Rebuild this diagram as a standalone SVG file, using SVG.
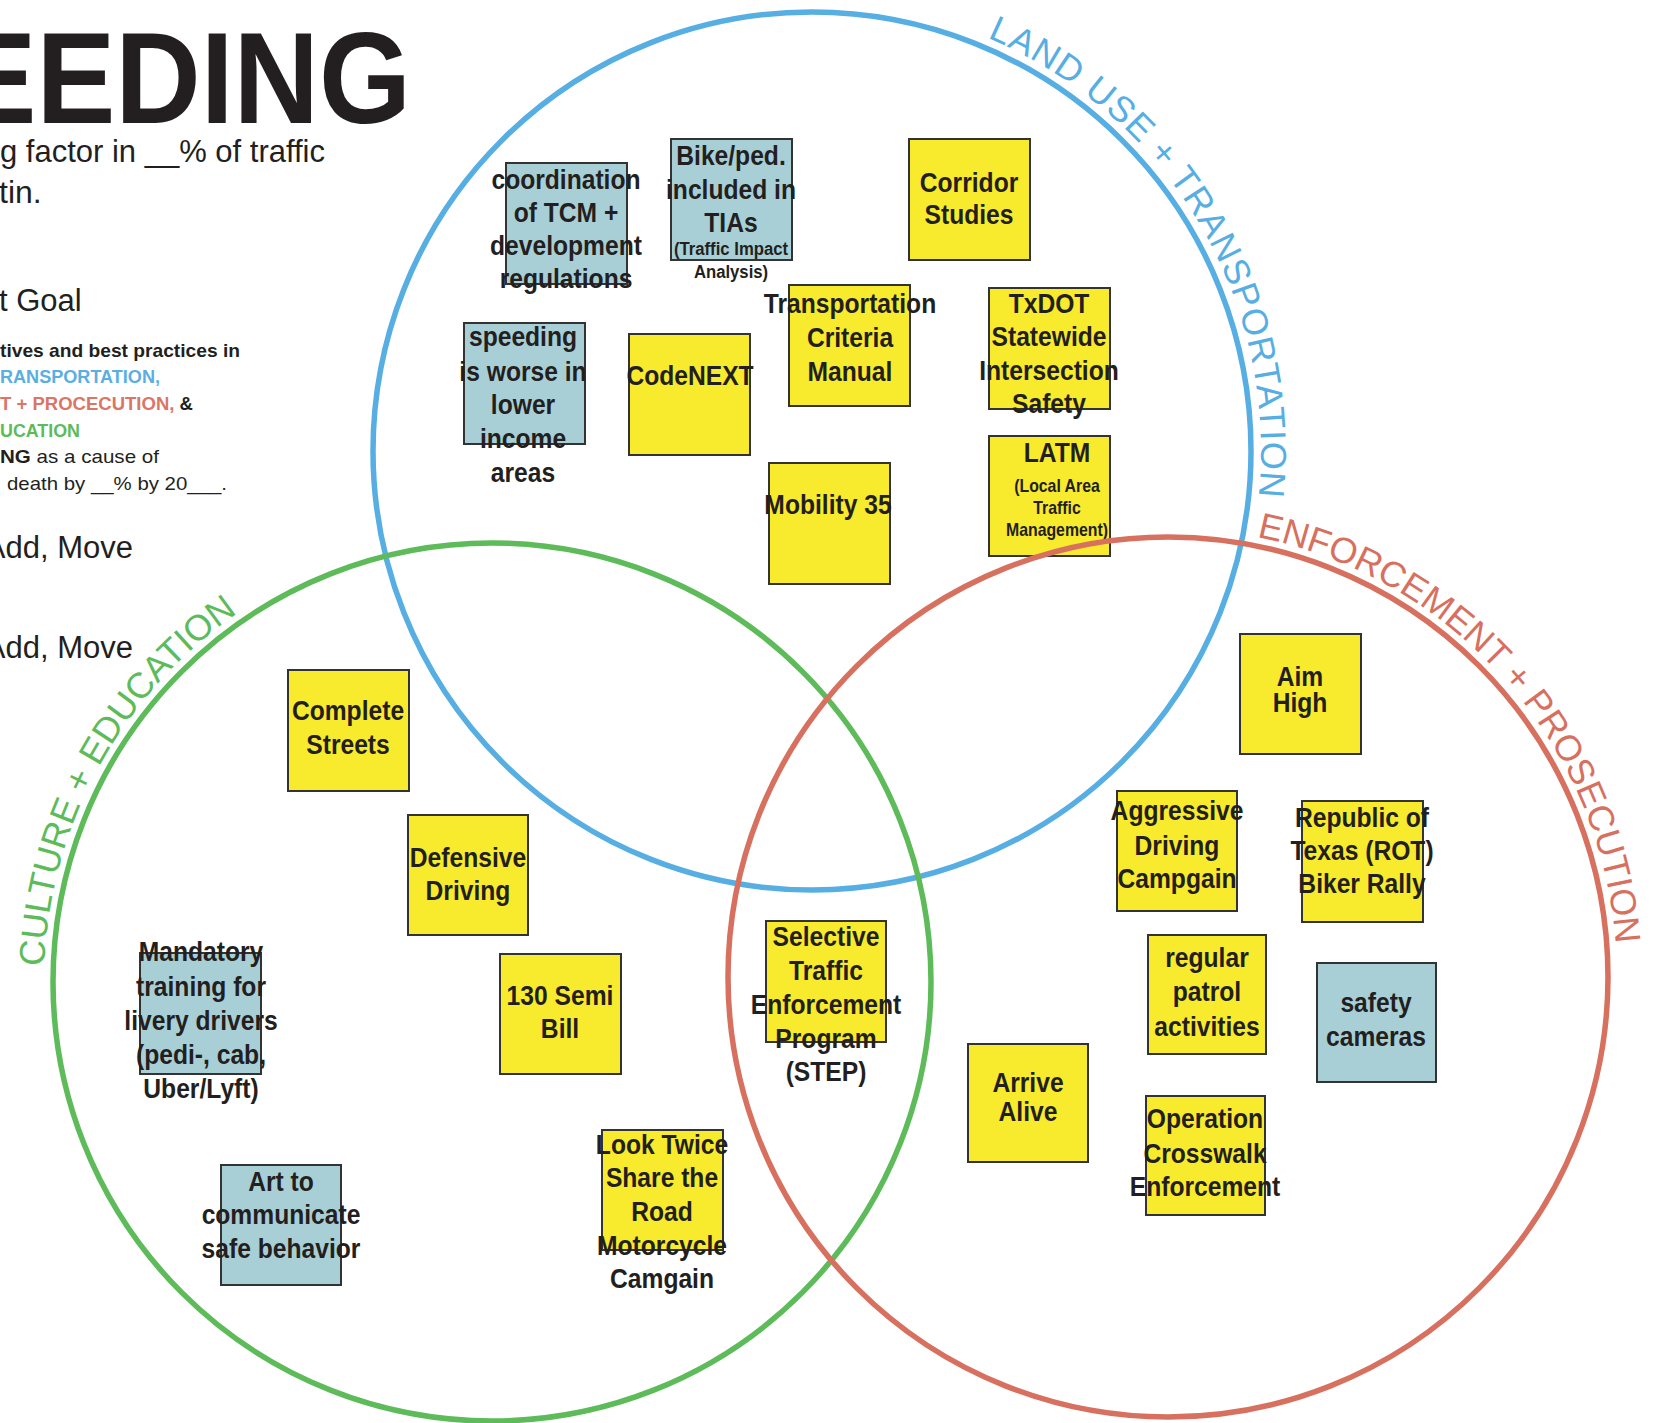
<svg xmlns="http://www.w3.org/2000/svg" width="1659" height="1423" viewBox="0 0 1659 1423">
<style>
.y{fill:#F8EA2C;stroke:#333;stroke-width:2}
.b{fill:#A8CFD6;stroke:#333;stroke-width:2}
.n{font-family:"Liberation Sans",Arial,sans-serif;font-weight:bold;font-size:28px;fill:#231F20;text-anchor:middle}
.s{font-size:18px}
.hd{font-family:"Liberation Sans",Arial,sans-serif;fill:#231F20}
.lbl{font-family:"Liberation Sans",Arial,sans-serif;font-size:36px}
.c{fill:none;stroke-width:5.5}
</style>
<defs>
<path id="pBlue" d="M987.4 37.7 A449 449 0 0 1 1254.2 528.9"/>
<path id="pRed" d="M1256.8 536.9 A449 449 0 0 1 1615.3 1016.1"/>
<path id="pGreen" d="M44.3 966.4 A448 448 0 0 1 302.7 576"/>
</defs>
<rect width="1659" height="1423" fill="#fff"/>

<g id="header">
<text class="hd" font-weight="bold" font-size="130" text-anchor="end" transform="translate(411 123) scale(0.91 1)">EEDING</text>
<text class="hd" x="0" y="162" font-size="32" textLength="325" lengthAdjust="spacingAndGlyphs">g factor in __% of traffic</text>
<text class="hd" x="-1" y="203" font-size="32">tin.</text>
<text class="hd" x="-1" y="311" font-size="31">t Goal</text>
<g font-family="Liberation Sans,Arial,sans-serif" font-weight="bold" font-size="19">
<text x="0" y="357" fill="#231F20" textLength="240" lengthAdjust="spacingAndGlyphs">tives and best practices in</text>
<text x="0" y="383" fill="#5AAFE0" textLength="160" lengthAdjust="spacingAndGlyphs">RANSPORTATION,</text>
<text x="0" y="410" fill="#DB7565" textLength="193" lengthAdjust="spacingAndGlyphs">T + PROCECUTION, <tspan fill="#231F20">&amp;</tspan></text>
<text x="0" y="437" fill="#5DBB5A" textLength="80" lengthAdjust="spacingAndGlyphs">UCATION</text>
<text x="0" y="463" fill="#231F20" textLength="159" lengthAdjust="spacingAndGlyphs">NG<tspan font-weight="normal"> as a cause of</tspan></text>
<text x="7" y="490" fill="#231F20" font-weight="normal" textLength="220" lengthAdjust="spacingAndGlyphs">death by __% by 20___.</text>
</g>
<text class="hd" x="133" y="558" font-size="31" text-anchor="end">Add, Move</text>
<text class="hd" x="133" y="658" font-size="31" text-anchor="end">Add, Move</text>
</g>

<g id="nodes">
<g id="coordination"><rect class="b" x="506" y="163" width="121" height="121"/>
<text class="n" transform="translate(566 0) scale(0.88 1)"><tspan x="0" y="189">coordination</tspan><tspan x="0" y="222">of TCM +</tspan><tspan x="0" y="255">development</tspan><tspan x="0" y="288">regulations</tspan></text></g>

<g id="bike-ped"><rect class="b" x="671" y="139" width="121" height="121"/>
<text class="n" transform="translate(731 0) scale(0.88 1)"><tspan x="0" y="165">Bike/ped.</tspan><tspan x="0" y="199">included in</tspan><tspan x="0" y="232">TIAs</tspan><tspan x="0" y="255" font-size="19">(Traffic Impact</tspan><tspan x="0" y="278" font-size="19">Analysis)</tspan></text></g>

<g id="corridor"><rect class="y" x="909" y="139" width="121" height="121"/>
<text class="n" transform="translate(969 0) scale(0.88 1)"><tspan x="0" y="192">Corridor</tspan><tspan x="0" y="224">Studies</tspan></text></g>

<g id="speeding"><rect class="b" x="464" y="323" width="121" height="121"/>
<text class="n" transform="translate(523 0) scale(0.88 1)"><tspan x="0" y="346">speeding</tspan><tspan x="0" y="381">is worse in</tspan><tspan x="0" y="414">lower</tspan><tspan x="0" y="448">income</tspan><tspan x="0" y="482">areas</tspan></text></g>

<g id="codenext"><rect class="y" x="629" y="334" width="121" height="121"/>
<text class="n" transform="translate(690 0) scale(0.88 1)"><tspan x="0" y="385">CodeNEXT</tspan></text></g>

<g id="tcm"><rect class="y" x="789" y="285" width="121" height="121"/>
<text class="n" transform="translate(850 0) scale(0.88 1)"><tspan x="0" y="313">Transportation</tspan><tspan x="0" y="347">Criteria</tspan><tspan x="0" y="381">Manual</tspan></text></g>

<g id="txdot"><rect class="y" x="989" y="288" width="121" height="121"/>
<text class="n" transform="translate(1049 0) scale(0.88 1)"><tspan x="0" y="313">TxDOT</tspan><tspan x="0" y="346">Statewide</tspan><tspan x="0" y="380">Intersection</tspan><tspan x="0" y="413">Safety</tspan></text></g>

<g id="latm"><rect class="y" x="989" y="436" width="121" height="120"/>
<text class="n" transform="translate(1057 0) scale(0.88 1)"><tspan x="0" y="462">LATM</tspan><tspan x="0" y="492" class="s">(Local Area</tspan><tspan x="0" y="514" class="s">Traffic</tspan><tspan x="0" y="536" class="s">Management)</tspan></text></g>

<g id="mobility35"><rect class="y" x="769" y="463" width="121" height="121"/>
<text class="n" transform="translate(828 0) scale(0.88 1)"><tspan x="0" y="514">Mobility 35</tspan></text></g>

<g id="complete-streets"><rect class="y" x="288" y="670" width="121" height="121"/>
<text class="n" transform="translate(348 0) scale(0.88 1)"><tspan x="0" y="720">Complete</tspan><tspan x="0" y="754">Streets</tspan></text></g>

<g id="defensive-driving"><rect class="y" x="408" y="815" width="120" height="120"/>
<text class="n" transform="translate(468 0) scale(0.88 1)"><tspan x="0" y="867">Defensive</tspan><tspan x="0" y="900">Driving</tspan></text></g>

<g id="semi-bill"><rect class="y" x="500" y="954" width="121" height="120"/>
<text class="n" transform="translate(560 0) scale(0.88 1)"><tspan x="0" y="1005">130 Semi</tspan><tspan x="0" y="1038">Bill</tspan></text></g>

<g id="mandatory-training"><rect class="b" x="140" y="953" width="121" height="121"/>
<text class="n" transform="translate(201 0) scale(0.88 1)"><tspan x="0" y="961">Mandatory</tspan><tspan x="0" y="996">training for</tspan><tspan x="0" y="1030">livery drivers</tspan><tspan x="0" y="1064">(pedi-, cab,</tspan><tspan x="0" y="1098">Uber/Lyft)</tspan></text></g>

<g id="art"><rect class="b" x="221" y="1165" width="120" height="120"/>
<text class="n" transform="translate(281 0) scale(0.88 1)"><tspan x="0" y="1191">Art to</tspan><tspan x="0" y="1224">communicate</tspan><tspan x="0" y="1258">safe behavior</tspan></text></g>

<g id="look-twice"><rect class="y" x="602" y="1130" width="121" height="120"/>
<text class="n" transform="translate(662 0) scale(0.88 1)"><tspan x="0" y="1154">Look Twice</tspan><tspan x="0" y="1187">Share the</tspan><tspan x="0" y="1221">Road</tspan><tspan x="0" y="1255">Motorcycle</tspan><tspan x="0" y="1288">Camgain</tspan></text></g>

<g id="step"><rect class="y" x="766" y="921" width="120" height="121"/>
<text class="n" transform="translate(826 0) scale(0.88 1)"><tspan x="0" y="946">Selective</tspan><tspan x="0" y="980">Traffic</tspan><tspan x="0" y="1014">Enforcement</tspan><tspan x="0" y="1048">Program</tspan><tspan x="0" y="1081">(STEP)</tspan></text></g>

<g id="arrive-alive"><rect class="y" x="968" y="1044" width="120" height="118"/>
<text class="n" transform="translate(1028 0) scale(0.88 1)"><tspan x="0" y="1092">Arrive</tspan><tspan x="0" y="1121">Alive</tspan></text></g>

<g id="aggressive-driving"><rect class="y" x="1117" y="791" width="120" height="120"/>
<text class="n" transform="translate(1177 0) scale(0.88 1)"><tspan x="0" y="820">Aggressive</tspan><tspan x="0" y="855">Driving</tspan><tspan x="0" y="888">Campgain</tspan></text></g>

<g id="rot-rally"><rect class="y" x="1302" y="801" width="121" height="121"/>
<text class="n" transform="translate(1362 0) scale(0.88 1)"><tspan x="0" y="827">Republic of</tspan><tspan x="0" y="860">Texas (ROT)</tspan><tspan x="0" y="893">Biker Rally</tspan></text></g>

<g id="aim-high"><rect class="y" x="1240" y="634" width="121" height="120"/>
<text class="n" font-size="26" transform="translate(1300 0) scale(0.88 1)"><tspan x="0" y="686">Aim</tspan><tspan x="0" y="712">High</tspan></text></g>

<g id="regular-patrol"><rect class="y" x="1148" y="935" width="118" height="119"/>
<text class="n" transform="translate(1207 0) scale(0.88 1)"><tspan x="0" y="967">regular</tspan><tspan x="0" y="1001">patrol</tspan><tspan x="0" y="1036">activities</tspan></text></g>

<g id="safety-cameras"><rect class="b" x="1317" y="963" width="119" height="119"/>
<text class="n" transform="translate(1376 0) scale(0.88 1)"><tspan x="0" y="1012">safety</tspan><tspan x="0" y="1046">cameras</tspan></text></g>

<g id="operation-crosswalk"><rect class="y" x="1146" y="1096" width="119" height="119"/>
<text class="n" transform="translate(1205 0) scale(0.88 1)"><tspan x="0" y="1128">Operation</tspan><tspan x="0" y="1163">Crosswalk</tspan><tspan x="0" y="1196">Enforcement</tspan></text></g>
</g>

<g id="connectors">
<circle class="c" cx="812" cy="451" r="439" stroke="#56AEE3"/>
<circle class="c" cx="492" cy="982" r="439" stroke="#5DBB5A"/>
<circle class="c" cx="1168" cy="977" r="440" stroke="#D7705E"/>
</g>

<g id="circle-labels">
<text class="lbl" fill="#56AEE3" font-size="37" letter-spacing="1"><textPath href="#pBlue">LAND USE + TRANSPORTATION</textPath></text>
<text class="lbl" fill="#D7705E"><textPath href="#pRed">ENFORCEMENT + PROSECUTION</textPath></text>
<text class="lbl" fill="#5DBB5A"><textPath href="#pGreen">CULTURE + EDUCATION</textPath></text>
</g>
</svg>
